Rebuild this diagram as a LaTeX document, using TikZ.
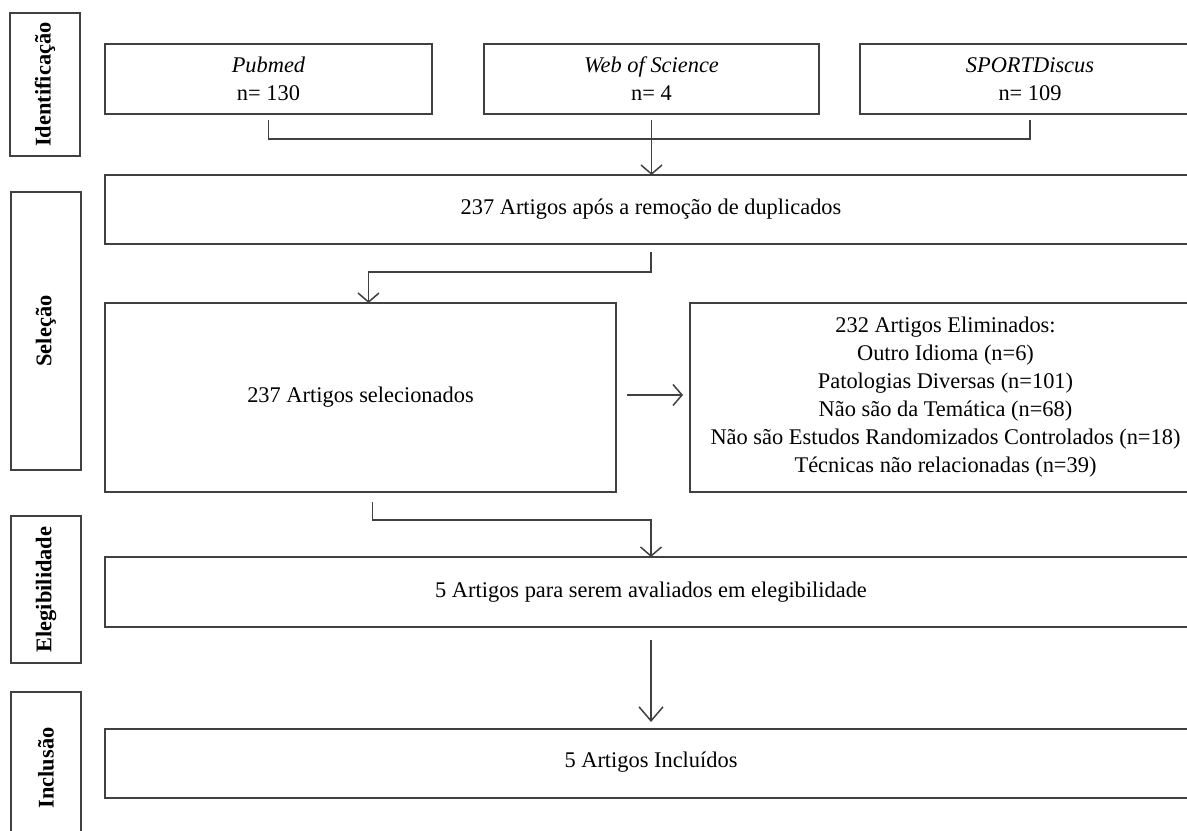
\documentclass[tikz,border=0pt]{standalone}
\usepackage{fontspec}
\setmainfont{Liberation Serif}
\usetikzlibrary{positioning,arrows.meta}

\begin{document}
\begin{tikzpicture}

				\tikzstyle{every node}=[font=\fontsize{11.2}{14}\selectfont]
				\tikzstyle{box}=[rectangle,draw=black!75,line width=0.75pt,align=center,inner sep=2pt,outer sep=0pt]
				\tikzstyle{phase}=[rectangle,draw=black!75,line width=0.75pt,rotate=90,minimum height=35pt,outer sep=0pt,font=\fontsize{11.2}{14}\selectfont\bfseries]
				\tikzstyle{arr}=[draw=black!75,line width=0.75pt,-{Straight Barb[length=4.5pt,width=10.5pt]}]

				\useasboundingbox (0,0) rectangle (593.5pt,-415pt);
				\clip (0,0) rectangle (593.5pt,-415pt);

				% fases
				\node[phase,minimum width=71.5pt] (identificacao) at (22.5pt,-42.25pt) {Identificação};
				\node[phase,minimum width=139pt] (selecao) at (23pt,-165.5pt) {Seleção};
				\node[phase,minimum width=73.5pt] (elegibilidade) at (23pt,-294.75pt) {Elegibilidade};
				\node[phase,minimum width=76pt] (inclusao) at (23pt,-384pt) {Inclusão};

				% bases
				\node[box,minimum width=163.5pt,minimum height=35pt] (pubmed) at (134.25pt,-39.5pt) {\textit{Pubmed}\\n= 130};
				\node[box,minimum width=167.5pt,minimum height=35pt,right=26pt of pubmed] (wos) {\textit{Web of Science}\\n= 4};
				\node[box,minimum width=170pt,minimum height=35pt,right=20.5pt of wos] (sport) {\textit{SPORTDiscus}\\n= 109};

				\node[box,minimum width=546pt,minimum height=34.5pt,below right=30.5pt and 0pt of pubmed.south west] (duplicados) {237 Artigos após a remoção de duplicados};

				\node[box,minimum width=255.5pt,minimum height=94.5pt,below right=29.5pt and 0pt of duplicados.south west] (selecionados) {237 Artigos selecionados};
				\node[box,minimum width=255.5pt,minimum height=94.5pt,right=37pt of selecionados] (eliminados) {232 Artigos Eliminados:\\Outro Idioma (n=6)\\Patologias Diversas (n=101)\\Não são da Temática (n=68)\\Não são Estudos Randomizados Controlados (n=18)\\Técnicas não relacionadas (n=39)};

				\node[box,minimum width=546pt,minimum height=35pt,below right=32.5pt and 0pt of selecionados.south west] (avaliados) {5 Artigos para serem avaliados em elegibilidade};
				\node[box,minimum width=546pt,minimum height=34.5pt,below right=51pt and 0pt of avaliados.south west,text depth=4pt] (incluidos) {5 Artigos Incluídos};

				% ligacoes
				\coordinate (pubmedfoot) at ([yshift=-3pt]pubmed.south);
				\coordinate (sportfoot) at ([yshift=-3pt]sport.south);
				\draw[draw=black!75,line width=0.75pt] (pubmedfoot) -- ++(0,-9.5pt) -| (sportfoot);
				\draw[arr] ([yshift=-3pt]wos.south) -- (wos.south |- duplicados.north);

				\draw[arr] ([yshift=-4pt]duplicados.south) -- ++(0,-10pt) -| ([xshift=4pt]selecionados.north);
				\draw[arr] ([xshift=5.5pt,yshift=1.25pt]selecionados.east) -- ([xshift=-3.5pt,yshift=1.25pt]eliminados.west);

				\draw[arr] ([xshift=6pt,yshift=-5pt]selecionados.south) -- ++(0,-9pt) -| (avaliados.north);
				\draw[arr,-{Straight Barb[length=7pt,width=12pt]}] ([yshift=-6.5pt]avaliados.south) -- ([yshift=3.5pt]incluidos.north);

\end{tikzpicture}
\end{document}
